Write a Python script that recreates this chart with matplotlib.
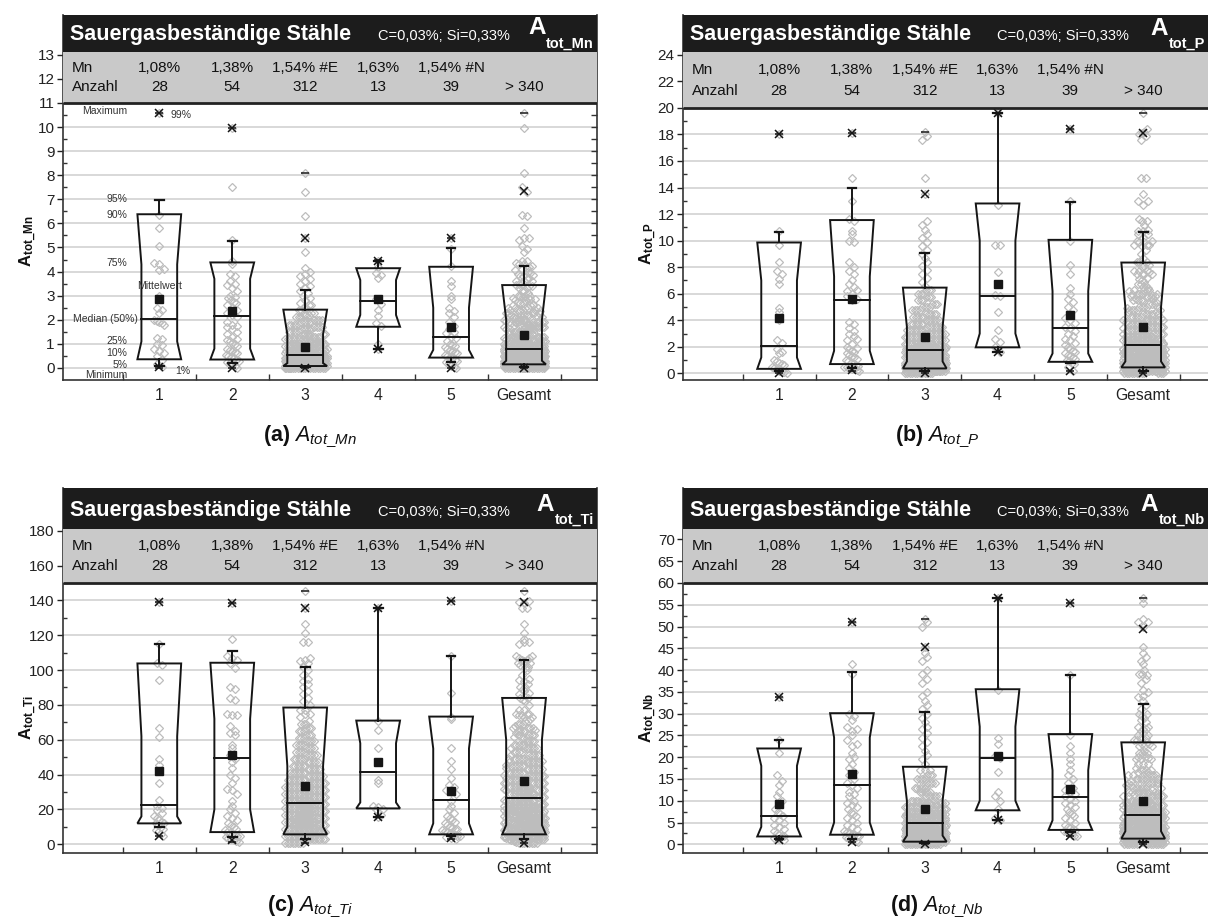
import numpy as np
import matplotlib
matplotlib.use("Agg")
import matplotlib.pyplot as plt
from matplotlib.patches import Rectangle, Polygon
from matplotlib.transforms import blended_transform_factory
from matplotlib.ticker import FixedLocator
from matplotlib.markers import TICKLEFT

plt.rcParams['font.family'] = ['Liberation Sans', 'DejaVu Sans']
plt.rcParams['mathtext.fontset'] = 'custom'
plt.rcParams['mathtext.rm'] = 'Liberation Sans'
plt.rcParams['mathtext.it'] = 'Liberation Sans:italic'
plt.rcParams['mathtext.bf'] = 'Liberation Sans:bold'

# ---------------------------------------------------------------- data
categories = ['1', '2', '3', '4', '5', 'Gesamt']
mn_content = ['1,08%', '1,38%', '1,54% #E', '1,63%', '1,54% #N', '']
anzahl = ['28', '54', '312', '13', '39', '> 340']

# ----- A_tot_Mn
mn_g1 = [10.6, 6.35, 5.8, 5.05, 4.35, 4.3, 4.1, 4.05, 3.0, 2.5, 2.4, 2.3, 2.0, 1.95,
         1.9, 1.85, 1.8, 1.25, 1.2, 1.0, 0.95, 0.8, 0.7, 0.6, 0.5, 0.35, 0.15, 0.05]
mn_g2 = [9.95, 7.5, 5.3, 4.45, 4.3, 3.9, 3.8, 3.6, 3.5, 3.45, 3.3, 3.2, 3.0, 2.95, 2.9,
         2.8, 2.75, 2.7, 2.6, 2.5, 2.4, 2.3, 2.2, 2.1, 1.9, 1.8, 1.75, 1.7, 1.6, 1.5,
         1.4, 1.3, 1.2, 1.15, 1.1, 1.05, 1.0, 0.9, 0.8, 0.75, 0.7, 0.65, 0.6, 0.55, 0.5,
         0.45, 0.4, 0.35, 0.3, 0.25, 0.2, 0.15, 0.1, 0.0]
mn_g3_levels = [0.0, 0.1, 0.2, 0.3, 0.4, 0.5, 0.6, 0.7, 0.8, 0.9, 1.0, 1.1, 1.2, 1.3,
                1.4, 1.5, 1.6, 1.7, 1.8, 1.9, 2.0, 2.1, 2.2, 2.3, 2.4, 2.5, 2.6, 2.7,
                2.8, 2.9, 3.0, 3.1, 3.2, 3.3, 3.4, 3.5, 3.6, 3.7, 3.8, 3.9, 4.0, 4.15,
                4.8, 5.4, 6.3, 7.3, 8.1]
mn_g3_counts = [20, 24, 30, 30, 28, 24, 16, 14, 13, 11, 10, 9, 8, 7, 6, 5, 5, 4, 5, 5,
                4, 3, 3, 2, 2, 2, 2, 1, 1, 1, 1, 1, 1, 1, 1, 1, 1, 1, 1, 1, 1, 1, 1, 1,
                1, 1, 1]
mn_g4 = [4.45, 4.2, 3.95, 3.85, 3.75, 2.85, 2.65, 2.4, 2.15, 1.85, 1.75, 1.0, 0.78]
mn_g5 = [5.4, 4.95, 4.25, 3.6, 3.4, 3.0, 2.85, 2.5, 2.35, 2.3, 2.1, 1.9, 1.75, 1.6, 1.5,
         1.45, 1.3, 1.25, 1.1, 1.0, 0.95, 0.9, 0.85, 0.8, 0.75, 0.7, 0.65, 0.6, 0.55,
         0.5, 0.45, 0.4, 0.35, 0.3, 0.25, 0.2, 0.1, 0.05, 0.0]
mn_min = [0.0, 0.0, 0.0, 0.78, 0.0, 0.0]
mn_p1 = [0.05, 0.0, 0.0, 0.78, 0.0, 0.0]
mn_p5 = [0.1, 0.22, 0.03, 0.78, 0.25, 0.05]
mn_p10 = [0.36, 0.35, 0.08, 1.71, 0.43, 0.15]
mn_q25 = [1.1, 0.8, 0.2, 2.2, 0.75, 0.3]
mn_median = [2.02, 2.15, 0.53, 2.76, 1.29, 0.78]
mn_mean = [2.85, 2.38, 0.89, 2.86, 1.68, 1.36]
mn_q75 = [4.3, 3.7, 1.4, 3.65, 2.5, 2.0]
mn_p90 = [6.38, 4.38, 2.42, 4.14, 4.2, 3.44]
mn_p95 = [6.96, 5.25, 3.25, 4.45, 4.97, 4.22]
mn_p99 = [10.6, 9.95, 5.4, 4.45, 5.4, 7.33]
mn_max = [10.6, 9.95, 8.1, 4.5, 5.4, 10.6]

# ----- A_tot_P
p_g1 = [18.0, 10.7, 9.7, 8.4, 7.7, 7.5, 7.1, 6.7, 4.9, 4.6, 4.0, 2.5, 2.3, 1.8, 1.6,
        1.5, 1.0, 0.9, 0.8, 0.7, 0.6, 0.5, 0.4, 0.3, 0.2, 0.15, 0.1, 0.05]
p_g2 = [18.1, 14.7, 13.0, 11.6, 11.5, 10.7, 10.5, 10.0, 9.9, 8.4, 8.0, 7.7, 7.5, 7.0,
        6.7, 6.5, 6.2, 6.0, 5.8, 5.5, 3.9, 3.7, 3.4, 3.2, 3.0, 2.8, 2.5, 2.2, 2.0, 1.8,
        1.7, 1.6, 1.5, 1.4, 1.3, 1.2, 1.1, 1.0, 0.9, 0.8, 0.7, 0.6, 0.5, 0.45, 0.4,
        0.35, 0.3, 0.25, 0.2, 5.6, 6.3, 2.6, 1.9, 0.55]
p_g3_levels = [0.0, 0.2, 0.4, 0.6, 0.8, 1.0, 1.2, 1.4, 1.6, 1.8, 2.0, 2.25, 2.5, 2.75,
               3.0, 3.25, 3.5, 3.75, 4.0, 4.25, 4.5, 4.75, 5.0, 5.25, 5.5, 5.75, 6.0,
               6.25, 6.6, 6.9, 7.2, 7.5, 7.8, 8.1, 8.4, 8.7, 9.0, 9.3, 9.6, 9.9, 10.2,
               10.5, 10.8, 11.2, 11.5, 13.5, 14.7, 17.6, 17.9, 18.2]
p_g3_counts = [12, 19, 22, 22, 20, 18, 17, 16, 15, 14, 13, 12, 11, 10, 9, 8, 7, 6, 6,
               5, 5, 4, 4, 3, 3, 3, 3, 3, 1, 1, 1, 1, 1, 1, 1, 1, 1, 1, 1, 1, 1, 1, 1,
               1, 1, 1, 1, 1, 1, 1]
p_g4 = [19.6, 12.7, 9.7, 9.7, 7.6, 5.9, 5.85, 4.6, 3.3, 2.6, 2.4, 2.0, 1.63]
p_g5 = [18.4, 13.0, 10.0, 8.2, 7.5, 6.4, 6.0, 5.6, 5.4, 5.0, 4.8, 4.5, 4.2, 4.0, 3.8,
        3.5, 3.4, 3.2, 3.0, 2.8, 2.6, 2.5, 2.3, 2.1, 2.0, 1.8, 1.7, 1.6, 1.5, 1.4, 1.3,
        1.2, 1.1, 1.0, 0.9, 0.8, 0.7, 0.5, 0.2]
p_min = [0.0, 0.2, 0.0, 1.63, 0.2, 0.0]
p_p1 = [0.0, 0.25, 0.0, 1.63, 0.2, 0.05]
p_p5 = [0.2, 0.4, 0.15, 1.63, 0.75, 0.2]
p_p10 = [0.34, 0.7, 0.37, 1.96, 0.87, 0.45]
p_q25 = [1.2, 1.7, 0.9, 3.0, 1.5, 0.9]
p_median = [2.05, 5.5, 1.76, 5.8, 3.45, 2.1]
p_mean = [4.15, 5.6, 2.76, 6.72, 4.4, 3.48]
p_q75 = [7.0, 7.3, 3.5, 10.0, 6.2, 5.0]
p_p90 = [9.86, 11.55, 6.46, 12.8, 10.06, 8.35]
p_p95 = [10.64, 13.96, 9.1, 19.6, 12.93, 10.67]
p_p99 = [18.0, 18.1, 13.5, 19.6, 18.4, 18.1]
p_max = [18.0, 18.1, 18.2, 19.6, 18.4, 19.6]

# ----- A_tot_Ti
ti_g1 = [139, 115, 104, 103, 94.5, 67, 61.5, 49, 45.5, 35, 25.5, 22, 21, 19.5, 18, 16,
         15, 14, 13, 12.5, 12, 11, 10, 9, 8, 7, 6, 4.5]
ti_g2 = [138.5, 118, 108, 107, 106, 104, 101, 90, 89, 84, 83, 75, 74, 74, 68, 65, 64,
         63, 57, 55, 51, 49, 47, 44, 40, 38, 35, 32, 31, 29, 25, 22, 20, 18, 16, 15, 14,
         12, 11, 10, 9, 8, 7, 6.5, 6, 5.5, 5, 4.5, 4, 3.5, 3, 2.5, 2, 1.5]
ti_g3_levels = [1, 3, 5, 7, 9, 11, 13, 15, 17, 19, 21, 23, 25, 27, 29, 31, 33, 35, 37,
                39, 41, 43, 45, 47, 49, 51, 53, 55, 57, 59, 61, 63, 65, 67, 69, 71, 73,
                75, 77, 80, 82, 84, 86, 88, 90, 92, 94, 95, 97, 100, 102, 104, 105, 106,
                107, 116, 121, 126.7, 135.4, 145.3]
ti_g3_counts = [8, 10, 13, 14, 14, 14, 13, 13, 12, 12, 12, 12, 11, 10, 10, 9, 9, 8, 8,
                7, 7, 6, 6, 5, 5, 5, 4, 4, 4, 4, 3, 3, 3, 3, 3, 1, 1, 2, 2, 1, 1, 1, 1,
                1, 1, 1, 1, 1, 1, 1, 1, 1, 1, 1, 1, 2, 1, 1, 1, 1]
ti_g4 = [135.8, 71, 65.5, 55, 47, 37, 35, 22, 21.5, 20.5, 20, 17, 15.8]
ti_g5 = [139.6, 108, 87, 73, 72, 55, 48, 43, 38, 34, 33, 31, 30, 29, 25, 22, 20, 18, 16,
         15, 14, 13, 12, 11, 10, 9.5, 9, 8.5, 8, 7.5, 7, 6.5, 6, 5.5, 5, 4.5, 4, 3.5, 3]
ti_min = [4.5, 1.5, 1.0, 15.8, 3.0, 1.0]
ti_p1 = [4.6, 2.3, 1.1, 15.8, 3.4, 1.0]
ti_p5 = [10, 4, 3, 15.8, 4.5, 3]
ti_p10 = [12, 7, 5.7, 20.6, 5.7, 5.7]
ti_q25 = [16, 20, 10, 24, 12, 11]
ti_median = [22.3, 49.3, 23.8, 41.5, 25.7, 26.5]
ti_mean = [41.9, 51.4, 33.3, 47.2, 30.5, 36.2]
ti_q75 = [62, 72, 45, 58, 55, 60]
ti_p90 = [103.8, 104.2, 78.5, 71.0, 73.3, 84.0]
ti_p95 = [115.2, 111.0, 101.9, 135.8, 107.8, 105.7]
ti_p99 = [139, 138.5, 135.4, 135.8, 139.6, 139.2]
ti_max = [139, 138.5, 145.3, 135.8, 139.6, 145.3]

# ----- A_tot_Nb
nb_g1 = [33.9, 24, 21, 16, 14.5, 13.5, 12, 11, 10, 9, 8, 7.5, 7, 6.5, 6, 5.5, 5, 4.5,
         4, 3.5, 3, 2.5, 2.2, 2, 1.8, 1.5, 1.2, 1.0]
nb_g2 = [51.1, 41.4, 39.0, 30, 29.5, 28.5, 27, 26, 25, 24, 22.5, 21, 19.5, 18.5, 17.5,
         16.5, 16, 15, 14, 13.5, 13, 12, 11.5, 11, 10, 9.5, 9, 8.5, 8, 7.5, 7, 6.5, 6,
         5.5, 5, 4.5, 4, 3.5, 3, 2.8, 2.6, 2.4, 2.2, 2.0, 1.8, 1.6, 1.4, 1.2, 1.0, 0.8,
         0.6, 20, 23, 26.5]
nb_g3_levels = [0, 0.5, 1, 1.5, 2, 2.5, 3, 3.5, 4, 4.5, 5, 5.5, 6, 6.5, 7, 7.5, 8, 8.5,
                9, 9.5, 10, 11, 12, 13, 14, 15, 16, 17, 18.5, 19.5, 20.5, 21.5, 22.5,
                23.5, 24.5, 25.5, 26.5, 27, 28, 29, 30, 31, 32, 33, 34, 35, 37, 38, 39,
                40, 42, 43, 44, 45.2, 50, 51, 51.8]
nb_g3_counts = [15, 16, 18, 18, 17, 17, 16, 15, 14, 13, 12, 11, 10, 10, 9, 8, 8, 7, 7,
                6, 6, 6, 5, 5, 4, 4, 3, 3, 1, 1, 1, 1, 1, 1, 1, 1, 1, 1, 1, 1, 1, 1, 1,
                1, 1, 1, 1, 1, 1, 1, 1, 1, 1, 1, 1, 1, 1]
nb_g4 = [56.6, 35.5, 24.5, 23, 20.2, 19.8, 16.5, 12, 11, 10, 8, 6, 5.5]
nb_g5 = [55.4, 38.8, 25, 22.5, 21, 19.5, 18.5, 17, 16, 15, 14, 13, 12.5, 12, 11.5, 11,
         10.5, 10, 9.5, 9, 8.5, 8, 7.5, 7, 6.5, 6, 5.5, 5, 4.5, 4, 3.8, 3.5, 3.3, 3.0,
         2.8, 2.5, 2.2, 2.0, 1.8]
nb_min = [1.0, 0.6, 0.0, 5.5, 1.8, 0.0]
nb_p1 = [1.0, 0.6, 0.0, 5.5, 2.0, 0.0]
nb_p5 = [1.3, 1.3, 0.3, 5.5, 2.8, 0.5]
nb_p10 = [1.8, 2.2, 0.6, 7.8, 3.3, 1.3]
nb_q25 = [4, 5, 2, 10, 5.5, 3]
nb_median = [6.4, 13.6, 4.8, 19.9, 10.9, 6.7]
nb_mean = [9.3, 16.1, 8.2, 20.3, 12.6, 9.9]
nb_q75 = [18, 24.5, 10, 27, 17, 14]
nb_p90 = [22.0, 30.1, 17.8, 35.6, 25.3, 23.4]
nb_p95 = [23.95, 39.6, 30.3, 56.6, 38.8, 32.1]
nb_p99 = [33.9, 51.1, 45.2, 56.6, 55.4, 49.5]
nb_max = [33.9, 51.1, 51.8, 56.6, 55.4, 56.6]


# ---------------------------------------------------------------- helpers
def expand(levels, counts):
    return list(np.repeat(np.asarray(levels, float), counts))


def groups_of(g1, g2, g3, g4, g5):
    gs = [np.asarray(g, float) for g in (g1, g2, g3, g4, g5)]
    return gs + [np.concatenate(gs)]


def stats_of(mn, p1, p5, p10, q25, med, mean, q75, p90, p95, p99, mx):
    keys = ['min', 'p1', 'p5', 'p10', 'q25', 'med', 'mean', 'q75', 'p90', 'p95', 'p99', 'max']
    cols = [mn, p1, p5, p10, q25, med, mean, q75, p90, p95, p99, mx]
    return [dict(zip(keys, [c[i] for c in cols])) for i in range(len(mn))]


panels = [
    dict(sub='tot_Mn', letter='a', box=(63, 15, 597, 380),
         ylim=(-0.5, 14.65), plot_top=11, gray_top=13.12,
         majors=np.arange(0, 14, 1), minors=np.arange(0.5, 13, 1.0), rticks=0.5,
         groups=groups_of(mn_g1, mn_g2, expand(mn_g3_levels, mn_g3_counts), mn_g4, mn_g5),
         stats=stats_of(mn_min, mn_p1, mn_p5, mn_p10, mn_q25, mn_median, mn_mean,
                        mn_q75, mn_p90, mn_p95, mn_p99, mn_max)),
    dict(sub='tot_P', letter='b', box=(683, 15, 1216, 380),
         ylim=(-0.5, 27.0), plot_top=20, gray_top=24.2,
         majors=np.arange(0, 25, 2), minors=np.arange(1, 24, 2), rticks=1.0,
         groups=groups_of(p_g1, p_g2, expand(p_g3_levels, p_g3_counts), p_g4, p_g5),
         stats=stats_of(p_min, p_p1, p_p5, p_p10, p_q25, p_median, p_mean,
                        p_q75, p_p90, p_p95, p_p99, p_max)),
    dict(sub='tot_Ti', letter='c', box=(63, 488, 597, 853),
         ylim=(-5, 204.5), plot_top=150, gray_top=181,
         majors=np.arange(0, 181, 20), minors=np.arange(10, 180, 20), rticks=10.0,
         groups=groups_of(ti_g1, ti_g2, expand(ti_g3_levels, ti_g3_counts), ti_g4, ti_g5),
         stats=stats_of(ti_min, ti_p1, ti_p5, ti_p10, ti_q25, ti_median, ti_mean,
                        ti_q75, ti_p90, ti_p95, ti_p99, ti_max)),
    dict(sub='tot_Nb', letter='d', box=(683, 488, 1216, 853),
         ylim=(-2, 81.8), plot_top=60, gray_top=72.4,
         majors=np.arange(0, 71, 5), minors=np.arange(2.5, 70, 5), rticks=2.5,
         groups=groups_of(nb_g1, nb_g2, expand(nb_g3_levels, nb_g3_counts), nb_g4, nb_g5),
         stats=stats_of(nb_min, nb_p1, nb_p5, nb_p10, nb_q25, nb_median, nb_mean,
                        nb_q75, nb_p90, nb_p95, nb_p99, nb_max)),
]

W, H = 1208, 923
fig = plt.figure(figsize=(W / 100, H / 100), dpi=100)
fig.patch.set_facecolor('white')

PT_COLOR = '#bdbdbd'
LINE = '#151515'


def swarm_x(ax, xc, values, max_half=0.31, size_px=7.0):
    """Spread values sideways inside horizontal bins (deterministic layout)."""
    vals = np.asarray(values, float)
    p0 = ax.transData.transform((0, 0))
    p1 = ax.transData.transform((1, 1))
    ppx, ppy = p1 - p0
    bins = np.floor(vals * ppy / size_px).astype(int)
    step = 0.36 * size_px / ppx
    nmax = 2 * int(max_half / step) + 1
    offs = np.zeros_like(vals)
    for b in np.unique(bins):
        idx = np.flatnonzero(bins == b)
        n = len(idx)
        gap = step if n > 3 else 2.0 * step
        for j, i in enumerate(idx):
            layer, k = divmod(j, nmax)
            m = min(nmax, n - layer * nmax)
            off = (k - (m - 1) / 2) * gap
            if layer % 2:
                off += step / 2
            offs[i] = np.clip(off, -max_half, max_half)
    return xc + offs


def draw_box(ax, x, s, hw_out=0.30, hw_in=0.245, cap=0.06):
    xs = [x - hw_out, x - hw_in, x - hw_in, x - hw_out,
          x + hw_out, x + hw_in, x + hw_in, x + hw_out]
    ys = [s['p90'], s['q75'], s['q25'], s['p10'],
          s['p10'], s['q25'], s['q75'], s['p90']]
    ax.add_patch(Polygon(np.column_stack([xs, ys]), closed=True, fill=False,
                         ec=LINE, lw=1.4, zorder=5))
    ax.plot([x - hw_in, x + hw_in], [s['med'], s['med']], color=LINE, lw=1.4, zorder=5)
    ax.plot([x, x], [s['p90'], s['p95']], color=LINE, lw=1.4, zorder=5)
    ax.plot([x - cap, x + cap], [s['p95'], s['p95']], color=LINE, lw=1.6, zorder=5)
    ax.plot([x, x], [s['p10'], s['p5']], color=LINE, lw=1.4, zorder=5)
    ax.plot([x - cap, x + cap], [s['p5'], s['p5']], color=LINE, lw=1.6, zorder=5)
    ax.plot([x, x], [s['p1'], s['p99']], ls='none', marker='x', ms=6, mew=1.1,
            color=LINE, zorder=7)
    ax.plot([x, x], [s['min'], s['max']], ls='none', marker='_', ms=6, mew=1.1,
            color=LINE, zorder=7)
    ax.plot([x], [s['mean']], ls='none', marker='s', ms=6.3, color=LINE, zorder=8)


xpos = np.arange(1, 7)

for P in panels:
    l, t, r, b = P['box']
    ax = fig.add_axes([l / W, 1 - b / H, (r - l) / W, (b - t) / H])
    ax.set_xlim(-0.32, 7.0)
    y0, y1 = P['ylim']
    ax.set_ylim(y0, y1)
    ptop, gtop = P['plot_top'], P['gray_top']
    bt = blended_transform_factory(ax.transAxes, ax.transData)

    # axes styling
    for side in ('left', 'bottom', 'right'):
        ax.spines[side].set_color('#333333')
        ax.spines[side].set_linewidth(1.2)
        ax.spines[side].set_zorder(9)
    ax.spines['top'].set_visible(False)
    ax.yaxis.set_major_locator(FixedLocator(P['majors']))
    ax.yaxis.set_minor_locator(FixedLocator(P['minors']))
    ax.tick_params(axis='y', which='major', direction='out', length=4, width=1,
                   labelsize=11, pad=2, colors='#222222')
    ax.tick_params(axis='y', which='minor', direction='in', length=3, width=1,
                   colors='#333333')
    ax.set_xticks(xpos)
    ax.set_xticklabels(categories)
    ax.tick_params(axis='x', which='major', length=0, labelsize=11.3, pad=6,
                   colors='#222222')
    ax.xaxis.set_minor_locator(FixedLocator(np.arange(0.5, 7, 1.0)))
    ax.tick_params(axis='x', which='minor', direction='in', length=4, width=1,
                   colors='#333333')

    # horizontal grid inside the plotting field
    for g in P['majors']:
        if g < ptop:
            ax.axhline(g, color='#d6d6d6', lw=1.3, zorder=1)
    # right-hand inner ticks
    rt = np.arange(0, ptop - 1e-9, P['rticks'])
    ax.plot(np.ones_like(rt), rt, ls='none', marker=TICKLEFT, ms=4, mew=1,
            color='#333333', transform=bt, clip_on=False, zorder=9)

    # header bands
    ax.add_patch(Rectangle((0, ptop), 1, gtop - ptop, transform=bt, fc='#c9c9c9',
                           ec='none', zorder=10, clip_on=False))
    ax.add_patch(Rectangle((0, gtop), 1, y1 - gtop, transform=bt, fc='#1c1c1c',
                           ec='none', zorder=10, clip_on=False))
    ax.plot([0, 1], [ptop, ptop], color='#222222', lw=2.0, transform=bt, zorder=11,
            solid_capstyle='butt')

    gh = gtop - ptop
    bh = y1 - gtop
    ax.text(0.016, ptop + 0.68 * gh, 'Mn', transform=bt, ha='left', va='center',
            fontsize=11, color='#111111', zorder=12)
    ax.text(0.016, ptop + 0.31 * gh, 'Anzahl', transform=bt, ha='left', va='center',
            fontsize=11, color='#111111', zorder=12)
    for x, c, n in zip(xpos, mn_content, anzahl):
        if c:
            ax.text(x, ptop + 0.68 * gh, c, ha='center', va='center', fontsize=11,
                    color='#111111', zorder=12)
        ax.text(x, ptop + 0.31 * gh, n, ha='center', va='center', fontsize=11,
                color='#111111', zorder=12)

    ax.text(0.013, gtop + 0.32 * bh, 'Sauergasbeständige Stähle', transform=bt,
            ha='left', va='baseline', fontsize=15.5, fontweight='bold', color='white',
            zorder=12)
    ax.text(0.59, gtop + 0.32 * bh, 'C=0,03%; Si=0,33%', transform=bt, ha='left',
            va='baseline', fontsize=10.5, color='white', zorder=12)
    right_px = min(r, W) - 3.0
    subtxt = ax.text((right_px - l) / (r - l), gtop + 0.12 * bh, P['sub'], transform=bt,
                     ha='right', va='baseline', fontsize=10.5, fontweight='bold',
                     color='white', zorder=12)
    ax.annotate('A', xy=(0, 0), xycoords=subtxt, xytext=(-0.5, 8),
                textcoords='offset points', ha='right', va='bottom', fontsize=17.5,
                fontweight='bold', color='white', zorder=12, annotation_clip=False)

    # y label centred on the plotting field
    ax.set_ylabel(r'$\mathbf{A}_{\mathbf{' + P['sub'].replace('_', r'\_') + '}}$',
                  fontsize=12, color='#111111')
    ax.yaxis.set_label_coords(-0.045, ((y0 + ptop) / 2 - y0) / (y1 - y0))

    # points and boxes
    for x, vals, s in zip(xpos, P['groups'], P['stats']):
        xs = swarm_x(ax, x, vals)
        ax.plot(xs, vals, ls='none', marker='D', ms=4.3, mfc='none', mec=PT_COLOR,
                mew=0.9, zorder=3)
        draw_box(ax, x, s)

    cx = {'a': 310, 'b': 937, 'c': 310, 'd': 937}[P['letter']]
    cy = {'a': 437, 'b': 437, 'c': 907, 'd': 907}[P['letter']]
    fig.text(cx / W, 1 - cy / H,
             r'$\mathbf{(' + P['letter'] + r')}\ \mathit{A}_{\mathit{'
             + P['sub'].replace('_', r'\_') + '}}$',
             ha='center', va='center', fontsize=15.5, color='#111111')

    if P['letter'] == 'a':
        s1 = P['stats'][0]
        lab = dict(fontsize=7.5, color='#333333', zorder=12)
        xr = 0.56
        ax.text(xr, 10.65, 'Maximum', ha='right', va='center', **lab)
        ax.text(1.16, 10.48, '99%', ha='left', va='center', **lab)
        ax.text(xr, s1['p95'] + 0.05, '95%', ha='right', va='center', **lab)
        ax.text(xr, s1['p90'] - 0.05, '90%', ha='right', va='center', **lab)
        ax.text(xr, 4.35, '75%', ha='right', va='center', **lab)
        ax.text(1.0, 3.39, 'Mittelwert', ha='center', va='center', **lab)
        ax.text(0.70, s1['med'], 'Median (50%)', ha='right', va='center', **lab)
        ax.text(xr, 1.12, '25%', ha='right', va='center', **lab)
        ax.text(xr, 0.61, '10%', ha='right', va='center', **lab)
        ax.text(xr, 0.11, '5%', ha='right', va='center', **lab)
        ax.text(xr, -0.3, 'Minimum', ha='right', va='center', **lab)
        ax.text(1.22, -0.12, '1%', ha='left', va='center', **lab)

fig.savefig('out.png', dpi=100, facecolor='white')
